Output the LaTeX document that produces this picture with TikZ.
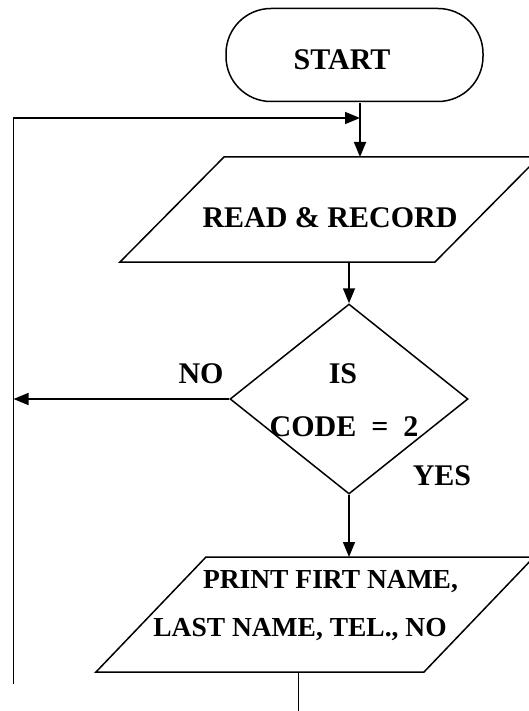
\documentclass[tikz,border=0pt]{standalone}
\usepackage{fontspec}
\setmainfont{Liberation Serif}
\usetikzlibrary{arrows.meta,shapes.geometric}
\begin{document}
\begin{tikzpicture}[x=1pt,y=-1pt, line width=1.5pt,
  lbl/.style={font=\fontsize{30}{36}\selectfont\bfseries, inner sep=0, anchor=base},
  plbl/.style={lbl, font=\fontsize{27.5}{33}\selectfont\bfseries},
  arr/.style={-{Triangle[length=15pt,width=12pt]}},
  box/.style={inner sep=0, outer sep=0}]
\useasboundingbox (0,0) rectangle (529,711);
\clip (0,0) rectangle (529,711);
% shapes
\node[draw, rounded corners=45pt, minimum width=257pt, minimum height=93pt, inner sep=0] (start) at (354.5,55) {};
\node[box, minimum width=419pt, minimum height=105pt] (read) at (329.5,209.5) {};
\draw (read.south west) -- ([xshift=-104pt]read.south east) -- (read.north east) -- ([xshift=104pt]read.north west) -- cycle;
\node[draw, diamond, minimum width=238pt, minimum height=190pt, inner sep=0] (dec) at (349,399) {};
\node[box, minimum width=438pt, minimum height=115pt] (print) at (315,614.5) {};
\draw (print.south west) -- ([xshift=-110pt]print.south east) -- (print.north east) -- ([xshift=110pt]print.north west) -- cycle;
% texts
\node[lbl] (tstart) at (342,70) {START};
\node[lbl] (tread) at (330,228) {READ \& RECORD};
\node[lbl] (tis) at (343,383.5) {IS};
\node[lbl] (tcode) at (344,436) {CODE\ \ =\ \ 2};
\node[lbl] (tno) at (201,383.5) {NO};
\node[lbl] (tyes) at (442,485) {YES};
\node[plbl] (tp1) at (330.5,588) {PRINT FIRT NAME,};
\node[plbl] (tp2) at (300,636) {LAST NAME, TEL., NO};
% coordinates
\coordinate (lb) at (13.5,684);
\coordinate (lt) at (13.5,118);
\coordinate (join) at (360,118);
\coordinate (s0) at (360,103);
\coordinate (endp) at (298.6,715);
% connectors
\draw[arr] (s0) -- (s0 |- read.north);
\draw[arr] (lb) -- (lt) -- (join);
\draw[arr] (dec.north |- read.south) -- (dec.north);
\draw[arr] (dec.west) -- (dec.west -| lt);
\draw[arr] (dec.south) -- (dec.south |- print.north);
\draw (endp |- print.south) -- (endp);
\end{tikzpicture}
\end{document}
